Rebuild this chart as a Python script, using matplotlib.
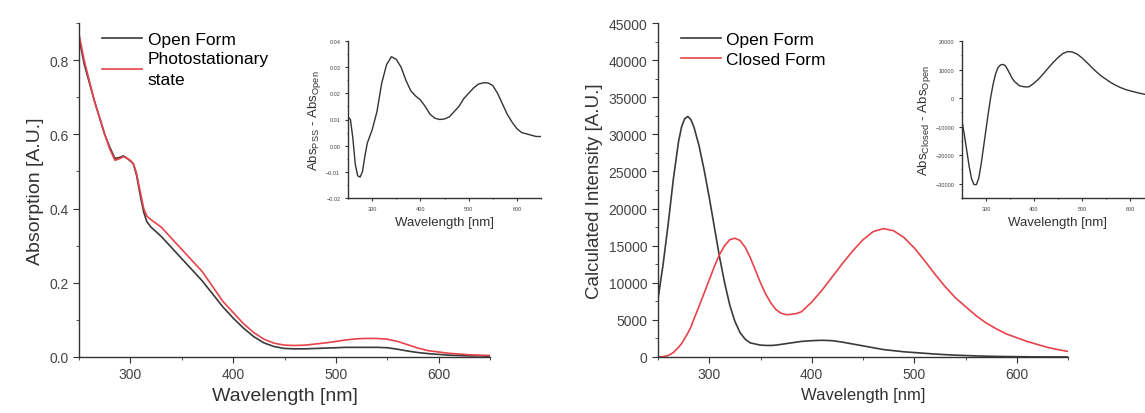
import numpy as np
import matplotlib
matplotlib.use("Agg")
import matplotlib.pyplot as plt
from matplotlib.ticker import MultipleLocator

plt.rcParams['font.family'] = ['Liberation Sans', 'DejaVu Sans']

# Données : spectre mesuré (panneau gauche)
wl_exp = [250, 255, 260, 265, 270, 275, 280, 285, 290, 293, 297, 300, 303, 306, 310, 313, 316, 320,
          330, 340, 350, 360, 370, 380, 390, 400, 410, 420, 430, 440, 450, 460, 470, 480, 490, 500,
          510, 520, 530, 540, 550, 560, 570, 580, 590, 600, 610, 620, 630, 640, 650]
abs_open = [0.86, 0.79, 0.74, 0.69, 0.645, 0.60, 0.565, 0.535, 0.538, 0.542, 0.535, 0.528, 0.52, 0.49,
            0.43, 0.39, 0.365, 0.35, 0.325, 0.295, 0.265, 0.235, 0.205, 0.17, 0.135, 0.105, 0.078,
            0.055, 0.038, 0.028, 0.023, 0.022, 0.022, 0.023, 0.024, 0.025, 0.026, 0.026, 0.026,
            0.026, 0.025, 0.021, 0.016, 0.012, 0.009, 0.007, 0.005, 0.004, 0.003, 0.003, 0.002]
abs_pss = [0.87, 0.80, 0.745, 0.69, 0.645, 0.60, 0.56, 0.53, 0.535, 0.54, 0.535, 0.53, 0.52, 0.495,
           0.44, 0.40, 0.38, 0.37, 0.35, 0.32, 0.29, 0.26, 0.23, 0.19, 0.15, 0.12, 0.09, 0.066,
           0.048, 0.037, 0.032, 0.031, 0.032, 0.035, 0.038, 0.042, 0.046, 0.049, 0.05, 0.05, 0.048,
           0.042, 0.033, 0.024, 0.017, 0.0135, 0.01, 0.008, 0.006, 0.005, 0.004]

# Encart gauche : différence PSS - ouvert
wl_diff1 = [250, 255, 260, 265, 270, 275, 280, 285, 290, 300, 310, 320, 330, 340, 350, 360, 370, 380,
            390, 400, 410, 420, 430, 440, 450, 460, 470, 480, 490, 500, 510, 520, 530, 540, 550, 560,
            570, 580, 590, 600, 610, 620, 630, 640, 650]
diff1 = [0.011, 0.010, 0.003, -0.007, -0.0115, -0.012, -0.010, -0.004, 0.001, 0.006, 0.013, 0.024,
         0.031, 0.034, 0.033, 0.030, 0.025, 0.021, 0.019, 0.0175, 0.015, 0.012, 0.0105, 0.010, 0.0102,
         0.011, 0.013, 0.015, 0.018, 0.020, 0.022, 0.0235, 0.024, 0.024, 0.023, 0.020, 0.016, 0.012,
         0.009, 0.0065, 0.005, 0.0045, 0.004, 0.0035, 0.0035]

# Spectres calculés (panneau droit)
wl_calc = [250, 255, 260, 265, 270, 273, 276, 279, 282, 285, 290, 295, 300, 305, 310, 315, 320, 325,
           330, 335, 340, 345, 350, 355, 360, 365, 370, 375, 380, 385, 390, 400, 410, 420, 430, 440,
           450, 460, 470, 480, 490, 500, 510, 520, 530, 540, 550, 560, 570, 580, 590, 600, 610, 620,
           630, 640, 650]
calc_open = [7800, 12500, 18000, 24000, 29000, 31000, 32100, 32400, 32000, 31000, 28500, 25200, 21500,
             17500, 13500, 10000, 7000, 4800, 3300, 2400, 1900, 1750, 1600, 1560, 1550, 1600, 1700,
             1800, 1900, 2000, 2100, 2200, 2250, 2200, 2000, 1750, 1500, 1250, 1000, 850, 700, 600,
             500, 400, 320, 250, 200, 150, 110, 80, 60, 40, 30, 15, 10, 7, 5]
calc_closed = [0, 50, 200, 600, 1300, 1800, 2500, 3200, 4000, 5100, 6800, 8600, 10400, 12200, 13800,
               15000, 15800, 16000, 15700, 14800, 13400, 11700, 10000, 8500, 7300, 6400, 5900, 5700,
               5750, 5850, 6100, 7400, 9000, 10800, 12600, 14300, 15800, 16900, 17300, 17000, 16100,
               14700, 13000, 11200, 9500, 8000, 6800, 5600, 4600, 3800, 3100, 2600, 2100, 1700, 1300,
               1000, 750]

# Encart droit : différence fermé - ouvert
wl_diff2 = [250, 255, 260, 265, 270, 275, 280, 285, 290, 295, 300, 305, 310, 315, 320, 325, 330, 335,
            340, 345, 350, 355, 360, 370, 380, 386, 390, 400, 410, 420, 430, 440, 450, 460, 470, 480,
            490, 500, 510, 520, 530, 540, 550, 560, 570, 580, 590, 600, 620, 640, 650]
diff2 = [-8000, -13000, -18500, -24000, -28300, -30300, -30300, -28000, -23000, -17000, -11000, -5000,
         500, 5000, 8500, 10700, 11600, 11800, 11400, 10000, 8400, 6800, 5700, 4300, 3950, 3900, 4000,
         5200, 6750, 8600, 10600, 12500, 14200, 15600, 16300, 16150, 15400, 14100, 12500, 10800, 9200,
         7750, 6600, 5450, 4500, 3700, 3050, 2550, 1700, 1000, 750]

c_open = '#3a3a3a'
c_red = '#e8434b'
c_axe = '#333333'


def style_axes(ax, fs_ticks, major, minor, ymaj, ymin, long_maj=4, long_min=2):
    for s in ['top', 'right']:
        ax.spines[s].set_visible(False)
    for s in ['left', 'bottom']:
        ax.spines[s].set_color(c_axe)
        ax.spines[s].set_linewidth(1.0)
    ax.xaxis.set_major_locator(MultipleLocator(major))
    ax.xaxis.set_minor_locator(MultipleLocator(minor))
    ax.yaxis.set_major_locator(MultipleLocator(ymaj))
    ax.yaxis.set_minor_locator(MultipleLocator(ymin))
    ax.tick_params(which='major', length=long_maj, width=0.8, color=c_axe,
                   labelsize=fs_ticks, labelcolor='#444444')
    ax.tick_params(which='minor', length=long_min, width=0.6, color=c_axe)


fig = plt.figure(figsize=(11.45, 4.14), dpi=100)

# Panneau gauche
ax1 = fig.add_axes([79 / 1145, 56 / 414, 411 / 1145, 334 / 414])
ax1.plot(wl_exp, abs_open, color=c_open, lw=1.2, label='Open Form')
ax1.plot(wl_exp, abs_pss, color=c_red, lw=1.2, label='Photostationary\nstate')
ax1.set_xlim(250, 650)
ax1.set_ylim(0, 0.9)
style_axes(ax1, 10, 100, 50, 0.2, 0.1)
ax1.set_xticks([300, 400, 500, 600])
ax1.set_yticks([0.0, 0.2, 0.4, 0.6, 0.8])
ax1.set_xlabel('Wavelength [nm]', fontsize=14, color='#333333')
ax1.set_ylabel('Absorption [A.U.]', fontsize=14, color='#333333')
leg1 = ax1.legend(loc='upper left', bbox_to_anchor=(0.04, 0.995), frameon=False, fontsize=12.5,
                  handlelength=2.3, handletextpad=0.3, labelspacing=0.25, borderaxespad=0)
for t in leg1.get_texts():
    t.set_linespacing(1.45)

# Encart gauche
in1 = fig.add_axes([348 / 1145, 215 / 414, 193 / 1145, 157 / 414])
in1.plot(wl_diff1, diff1, color='#333333', lw=1.0)
in1.set_xlim(250, 650)
in1.set_ylim(-0.02, 0.04)
style_axes(in1, 4, 100, 50, 0.01, 0.005, 2, 1)
in1.set_xticks([300, 400, 500, 600])
in1.set_xlabel('Wavelength [nm]', fontsize=9.5, color='#333333')
in1.set_ylabel(r'Abs$_{\mathregular{PSS}}$ - Abs$_{\mathregular{Open}}$', fontsize=9.5,
               color='#333333', labelpad=2)

# Panneau droit
ax2 = fig.add_axes([658 / 1145, 56 / 414, 410 / 1145, 334 / 414])
ax2.plot(wl_calc, calc_open, color=c_open, lw=1.2, label='Open Form')
ax2.plot(wl_calc, calc_closed, color=c_red, lw=1.2, label='Closed Form')
ax2.set_xlim(250, 650)
ax2.set_ylim(0, 45000)
style_axes(ax2, 10, 100, 50, 5000, 2500)
ax2.set_xticks([300, 400, 500, 600])
ax2.set_xlabel('Wavelength [nm]', fontsize=12, color='#333333')
ax2.set_ylabel('Calculated Intensity [A.U.]', fontsize=13.5, color='#333333')
ax2.legend(loc='upper left', bbox_to_anchor=(0.04, 0.995), frameon=False, fontsize=12.5,
           handlelength=2.3, handletextpad=0.3, labelspacing=0.3, borderaxespad=0)

# Encart droit
in2 = fig.add_axes([962 / 1145, 215 / 414, 192 / 1145, 157 / 414])
in2.plot(wl_diff2, diff2, color='#333333', lw=1.0)
in2.set_xlim(250, 650)
in2.set_ylim(-35000, 20000)
style_axes(in2, 4, 100, 50, 10000, 5000, 2, 1)
in2.set_xticks([300, 400, 500, 600])
in2.set_yticks([-30000, -20000, -10000, 0, 10000, 20000])
in2.set_xlabel('Wavelength [nm]', fontsize=9.5, color='#333333')
in2.set_ylabel(r'Abs$_{\mathregular{Closed}}$ - Abs$_{\mathregular{Open}}$', fontsize=9.5,
               color='#333333', labelpad=2)

fig.savefig('out.png', dpi=100)
